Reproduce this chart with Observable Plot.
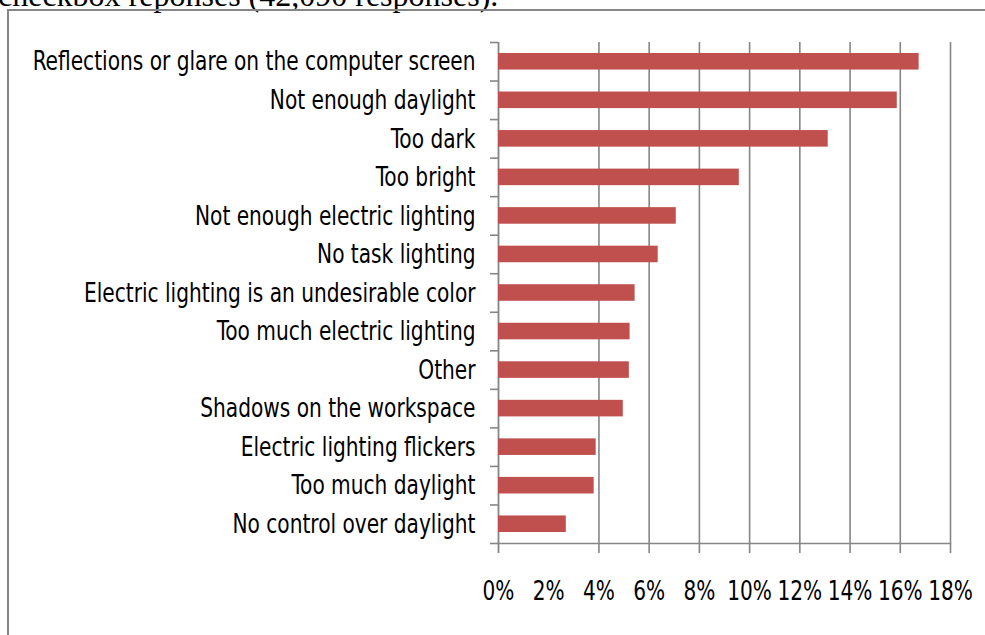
<!DOCTYPE html>
<html>
<head>
<meta charset="utf-8">
<script src="https://cdn.jsdelivr.net/npm/d3@7"></script>
<script src="https://cdn.jsdelivr.net/npm/@observablehq/plot@0.6"></script>
<style>
  html, body { margin: 0; padding: 0; background: #fff; }
  body { width: 985px; height: 635px; position: relative; overflow: hidden; }
  #title { position: absolute; left: -2px; top: -20px; font-family: "Liberation Serif", "Times New Roman", serif; font-size: 32px; line-height: 30px; white-space: nowrap; color: #000; }
  #frame { position: absolute; left: 7px; top: 9px; width: 1100px; height: 800px; border: 2px solid #868686; box-sizing: border-box; }
  #chart { position: absolute; left: 0; top: 0; }
</style>
</head>
<body>
<div id="title">checkbox reponses (42,090 responses).</div>
<div id="frame"></div>
<div id="chart"></div>
<script>
const categories = [
  "Reflections or glare on the computer screen",
  "Not enough daylight",
  "Too dark",
  "Too bright",
  "Not enough electric lighting",
  "No task lighting",
  "Electric lighting is an undesirable color",
  "Too much electric lighting",
  "Other",
  "Shadows on the workspace",
  "Electric lighting flickers",
  "Too much daylight",
  "No control over daylight"
];
const values = [16.75, 15.88, 13.13, 9.59, 7.08, 6.36, 5.44, 5.24, 5.21, 4.97, 3.89, 3.81, 2.70];
const xTicks = [0, 2, 4, 6, 8, 10, 12, 14, 16, 18];
const gridTicks = [4, 6, 8, 10, 12, 14, 16, 18];

const data = categories.map((c, i) => ({category: c, value: values[i]}));

const W = 985, H = 635, mL = 498, mR = 35, mT = 42, mB = 92;
const step = (H - mT - mB) / categories.length;
const gray = "#868686";

const chart = Plot.plot({
  width: W, height: H,
  marginLeft: mL, marginRight: mR, marginTop: mT, marginBottom: mB,
  style: {fontFamily: "'DejaVu Sans Condensed', 'Liberation Sans Narrow', sans-serif", color: "#000", background: "transparent"},
  x: {domain: [0, 18], axis: null},
  y: {domain: categories, paddingInner: 0.57, paddingOuter: 0.285, round: false, axis: null},
  marks: [
    Plot.ruleX(gridTicks, {stroke: gray, strokeWidth: 1.6, strokeOpacity: 1, insetBottom: -10}),
    Plot.ruleX([0], {stroke: gray, strokeWidth: 1.8, strokeOpacity: 1, insetBottom: -10}),
    Plot.frame({anchor: "bottom", stroke: gray, strokeWidth: 1.4}),
    Plot.ruleY(categories, {y: d => d, x1: 0, x2: 0, insetLeft: -8, dy: -step / 2, stroke: gray, strokeWidth: 1.6}),
    Plot.ruleY([categories[categories.length - 1]], {y: d => d, x1: 0, x2: 0, insetLeft: -8, dy: step / 2, stroke: gray, strokeWidth: 1.6}),
    Plot.barX(data, {x: "value", y: "category", fill: "#C0504D"}),
    Plot.axisX({ticks: xTicks, tickFormat: d => d + "%", tickSize: 0, tickPadding: 38, label: null, fontSize: 26}),
    Plot.axisY({tickSize: 0, tickPadding: 23, label: null, fontSize: 27})
  ]
});
// narrow the tall axis glyphs horizontally, around each label's own anchor
chart.querySelectorAll('g[aria-label="y-axis tick label"] text').forEach(t => {
  t.setAttribute("transform", (t.getAttribute("transform") || "") + " scale(0.83,1)");
});
chart.querySelectorAll('g[aria-label="x-axis tick label"] text').forEach(t => {
  t.setAttribute("transform", (t.getAttribute("transform") || "") + " scale(0.86,1)");
});
document.getElementById("chart").appendChild(chart);
</script>
</body>
</html>
